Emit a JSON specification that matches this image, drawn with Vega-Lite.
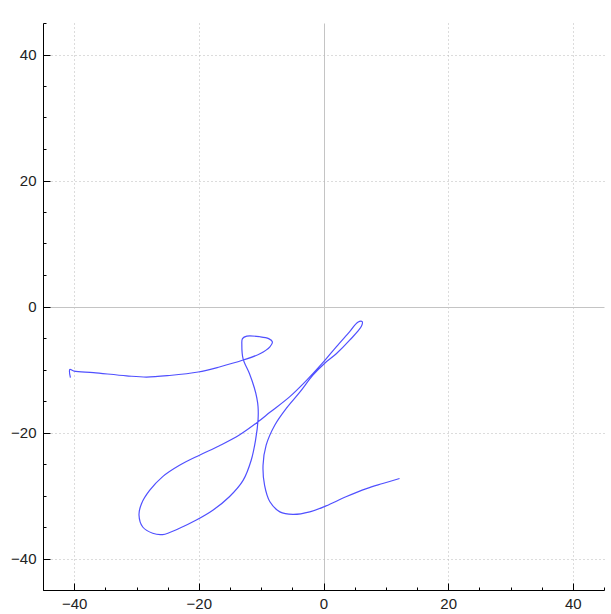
{
  "$schema": "https://vega.github.io/schema/vega-lite/v6.json",
  "width": 561,
  "height": 567,
  "autosize": {"type": "none"},
  "padding": {"left": 43, "top": 23, "right": 7, "bottom": 24},
  "background": "white",
  "config": {
    "view": {"stroke": null},
    "font": "Liberation Sans",
    "axis": {
      "domainColor": "#000000",
      "domainWidth": 1,
      "tickColor": "#000000",
      "tickWidth": 1,
      "labelColor": "#222222",
      "labelFontSize": 15,
      "labelFont": "Liberation Sans",
      "gridWidth": 1
    }
  },
  "data": {
    "values": [
      {"i": 1, "x": -40.6, "y": -11.3},
      {"i": 2, "x": -40.7, "y": -10.0},
      {"i": 3, "x": -40.0, "y": -10.25},
      {"i": 4, "x": -36.9, "y": -10.5},
      {"i": 5, "x": -31.6, "y": -11.0},
      {"i": 6, "x": -28.4, "y": -11.2},
      {"i": 7, "x": -24.7, "y": -10.95},
      {"i": 8, "x": -20.1, "y": -10.4},
      {"i": 9, "x": -16.7, "y": -9.6},
      {"i": 10, "x": -12.9, "y": -8.5},
      {"i": 11, "x": -10.2, "y": -7.5},
      {"i": 12, "x": -8.6, "y": -6.4},
      {"i": 13, "x": -8.2, "y": -5.6},
      {"i": 14, "x": -8.8, "y": -5.1},
      {"i": 15, "x": -10.2, "y": -4.8},
      {"i": 16, "x": -12.3, "y": -4.7},
      {"i": 17, "x": -13.0, "y": -5.1},
      {"i": 18, "x": -13.1, "y": -6.1},
      {"i": 19, "x": -12.9, "y": -8.3},
      {"i": 20, "x": -11.9, "y": -10.6},
      {"i": 21, "x": -11.1, "y": -12.9},
      {"i": 22, "x": -10.7, "y": -14.5},
      {"i": 23, "x": -10.5, "y": -15.9},
      {"i": 24, "x": -10.5, "y": -18.0},
      {"i": 25, "x": -10.9, "y": -21.2},
      {"i": 26, "x": -11.6, "y": -24.4},
      {"i": 27, "x": -12.9, "y": -27.6},
      {"i": 28, "x": -15.1, "y": -30.2},
      {"i": 29, "x": -17.7, "y": -32.3},
      {"i": 30, "x": -20.4, "y": -33.9},
      {"i": 31, "x": -23.1, "y": -35.2},
      {"i": 32, "x": -25.8, "y": -36.2},
      {"i": 33, "x": -27.4, "y": -36.0},
      {"i": 34, "x": -29.0, "y": -35.0},
      {"i": 35, "x": -29.6, "y": -33.1},
      {"i": 36, "x": -29.2, "y": -31.3},
      {"i": 37, "x": -27.9, "y": -29.2},
      {"i": 38, "x": -25.8, "y": -27.0},
      {"i": 39, "x": -23.1, "y": -25.2},
      {"i": 40, "x": -19.9, "y": -23.6},
      {"i": 41, "x": -16.7, "y": -22.1},
      {"i": 42, "x": -13.5, "y": -20.4},
      {"i": 43, "x": -10.5, "y": -18.3},
      {"i": 44, "x": -8.6, "y": -16.8},
      {"i": 45, "x": -5.4, "y": -14.3},
      {"i": 46, "x": -2.8, "y": -11.8},
      {"i": 47, "x": 0.0, "y": -8.8},
      {"i": 48, "x": 2.05, "y": -6.4},
      {"i": 49, "x": 4.2, "y": -4.0},
      {"i": 50, "x": 5.5, "y": -2.5},
      {"i": 51, "x": 6.2, "y": -2.4},
      {"i": 52, "x": 6.1, "y": -3.1},
      {"i": 53, "x": 4.2, "y": -5.35},
      {"i": 54, "x": 2.05, "y": -7.5},
      {"i": 55, "x": 0.2, "y": -9.0},
      {"i": 56, "x": -1.7, "y": -10.9},
      {"i": 57, "x": -3.8, "y": -13.6},
      {"i": 58, "x": -6.0, "y": -16.2},
      {"i": 59, "x": -7.8, "y": -18.8},
      {"i": 60, "x": -9.2, "y": -22.0},
      {"i": 61, "x": -9.7, "y": -25.2},
      {"i": 62, "x": -9.45, "y": -28.4},
      {"i": 63, "x": -8.6, "y": -31.0},
      {"i": 64, "x": -7.0, "y": -32.6},
      {"i": 65, "x": -4.9, "y": -33.0},
      {"i": 66, "x": -2.2, "y": -32.6},
      {"i": 67, "x": 0.4, "y": -31.65},
      {"i": 68, "x": 3.6, "y": -30.2},
      {"i": 69, "x": 6.9, "y": -28.9},
      {"i": 70, "x": 9.5, "y": -28.1},
      {"i": 71, "x": 12.2, "y": -27.3}
    ]
  },
  "mark": {"type": "line", "interpolate": "catmull-rom", "color": "#5050ff", "strokeWidth": 1.2},
  "encoding": {
    "x": {
      "field": "x", "type": "quantitative",
      "scale": {"domain": [-45, 45], "nice": false, "zero": false},
      "axis": {
        "title": null,
        "values": [-45, -40, -35, -30, -25, -20, -15, -10, -5, 0, 5, 10, 15, 20, 25, 30, 35, 40, 45],
        "labelExpr": "datum.value % 20 === 0 ? datum.label : ''",
        "tickSize": {"condition": {"test": "datum.value % 20 === 0", "value": -7}, "value": -3},
        "labelPadding": 13,
        "labelFlush": false,
        "labelOverlap": false,
        "grid": true,
        "gridColor": {"condition": {"test": "datum.value === 0", "value": "#c4c4c4"}, "value": "#b8b8b8"},
        "gridDash": {"condition": {"test": "datum.value === 0", "value": []}, "value": [1, 3]},
        "gridOpacity": {"condition": {"test": "datum.value % 20 === 0", "value": 1}, "value": 0}
      }
    },
    "y": {
      "field": "y", "type": "quantitative",
      "scale": {"domain": [-45, 45], "nice": false, "zero": false},
      "axis": {
        "title": null,
        "values": [-45, -40, -35, -30, -25, -20, -15, -10, -5, 0, 5, 10, 15, 20, 25, 30, 35, 40, 45],
        "labelExpr": "datum.value % 20 === 0 ? datum.label : ''",
        "tickSize": {"condition": {"test": "datum.value % 20 === 0", "value": -7}, "value": -3},
        "labelPadding": 14,
        "labelFlush": false,
        "labelOverlap": false,
        "grid": true,
        "gridColor": {"condition": {"test": "datum.value === 0", "value": "#c4c4c4"}, "value": "#b8b8b8"},
        "gridDash": {"condition": {"test": "datum.value === 0", "value": []}, "value": [1, 3]},
        "gridOpacity": {"condition": {"test": "datum.value % 20 === 0", "value": 1}, "value": 0}
      }
    },
    "order": {"field": "i", "type": "quantitative"}
  }
}
